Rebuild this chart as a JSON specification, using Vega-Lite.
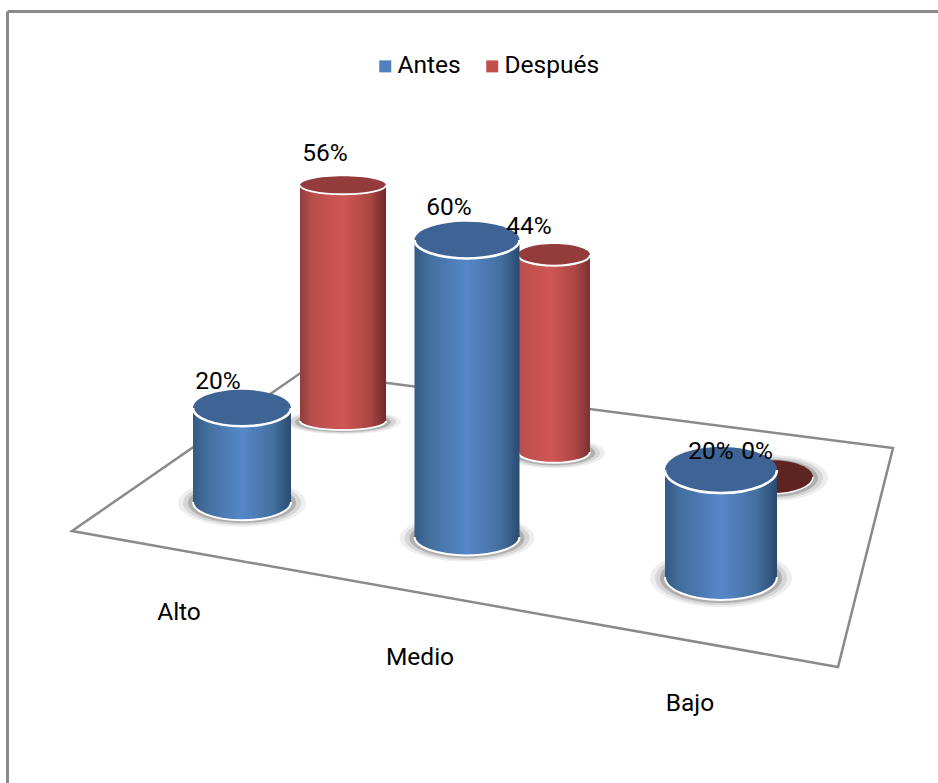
{"$schema":"https://vega.github.io/schema/vega-lite/v6.json","width":931,"height":772,"autosize":{"type":"none"},"padding":{"left":7,"top":11,"right":0,"bottom":0},"background":"white","config":{"view":{"stroke":null},"text":{"font":"Roboto","fontSize":24.5,"color":"black"}},"data":{"values":[{"category":"Alto","series":"Antes","value":0.2},{"category":"Alto","series":"Después","value":0.56},{"category":"Medio","series":"Antes","value":0.6},{"category":"Medio","series":"Después","value":0.44},{"category":"Bajo","series":"Antes","value":0.2},{"category":"Bajo","series":"Después","value":0}]},"resolve":{"scale":{"x":"independent","y":"independent"},"axis":{"x":"independent","y":"independent"}},"layer":[
{"mark":{"type":"point","opacity":0},"encoding":{"x":{"field":"value","type":"quantitative","scale":{"domain":[0,1],"range":[0,931]},"axis":{"orient":"top","title":null,"labels":false,"ticks":false,"grid":false,"domainColor":"#8a8a8a","domainWidth":3}},"y":{"field":"value","type":"quantitative","scale":{"domain":[0,1],"range":[772,0]},"axis":{"orient":"left","title":null,"labels":false,"ticks":false,"grid":false,"domainColor":"#8a8a8a","domainWidth":3}}}},
{"transform":[{"filter":"datum.category=='Medio'&&datum.series=='Antes'"}],"mark":{"type":"point","filled":true,"fill":"white","stroke":"#8a8a8a","strokeWidth":2.5,"opacity":1,"size":40000,"shape":"M-3.95,-0.06L-1.65,-1.65L4.26,-0.89L3.71,1.3Z"},"encoding":{"x":{"field":"category","type":"nominal","axis":null,"scale":{"type":"point","domain":["Medio"],"range":[460,460]}},"y":{"datum":0,"type":"quantitative","axis":null,"scale":{"domain":[0,1],"range":[526,31]}}}},
{"transform":[{"filter":"datum.category=='Alto'&&datum.series=='Después'"}],"encoding":{"x":{"field":"category","type":"nominal","axis":null,"scale":{"type":"point","domain":["Alto"],"range":[336,336]}},"y":{"field":"value","type":"quantitative","axis":null,"scale":{"domain":[0,1],"range":[410,-11]}}},"layer":[
{"mark":{"type":"point","filled":true,"fill":"#777777","opacity":0.12,"size":13456,"yOffset":1,"shape":"M-1,0A1,0.21 0 1 1 1,0A1,0.21 0 1 1 -1,0Z"},"encoding":{"y":{"datum":0}}},
{"mark":{"type":"point","filled":true,"fill":"#777777","opacity":0.2,"size":11236,"yOffset":1,"shape":"M-1,0A1,0.21 0 1 1 1,0A1,0.21 0 1 1 -1,0Z"},"encoding":{"y":{"datum":0}}},
{"mark":{"type":"point","filled":true,"fill":"#666666","opacity":0.35,"size":9216,"yOffset":1,"shape":"M-1,0A1,0.21 0 1 1 1,0A1,0.21 0 1 1 -1,0Z"},"encoding":{"y":{"datum":0}}},
{"mark":{"type":"point","filled":true,"opacity":1,"size":7396,"shape":"M-1,0A1,0.21 0 1 1 1,0A1,0.21 0 1 1 -1,0Z","fill":{"gradient":"linear","x1":0,"y1":0,"x2":1,"y2":0,"stops":[{"offset":0,"color":"#8f3d3b"},{"offset":0.15,"color":"#b94f4c"},{"offset":0.5,"color":"#cf5654"},{"offset":0.82,"color":"#ab4643"},{"offset":1,"color":"#6d2a29"}]}},"encoding":{"y":{"datum":0}}},
{"mark":{"type":"point","filled":false,"stroke":"white","strokeWidth":2,"opacity":1,"size":7396,"shape":"M-1,0A1,0.21 0 0 0 1,0"},"encoding":{"y":{"datum":0}}},
{"mark":{"type":"bar","width":86,"fill":{"gradient":"linear","x1":0,"y1":0,"x2":1,"y2":0,"stops":[{"offset":0,"color":"#8f3d3b"},{"offset":0.15,"color":"#b94f4c"},{"offset":0.5,"color":"#cf5654"},{"offset":0.82,"color":"#ab4643"},{"offset":1,"color":"#6d2a29"}]}},"encoding":{"y2":{"datum":0}}},
{"mark":{"type":"point","filled":true,"fill":"#943c3b","opacity":1,"size":7396,"shape":"M-1,0A1,0.21 0 1 1 1,0A1,0.21 0 1 1 -1,0Z"}},
{"mark":{"type":"point","filled":false,"stroke":"white","strokeWidth":2,"opacity":1,"size":7396,"shape":"M-1,0A1,0.21 0 0 0 1,0"}}
]},
{"transform":[{"filter":"datum.category=='Medio'&&datum.series=='Después'"}],"encoding":{"x":{"field":"category","type":"nominal","axis":null,"scale":{"type":"point","domain":["Medio"],"range":[547,547]}},"y":{"field":"value","type":"quantitative","axis":null,"scale":{"domain":[0,1],"range":[441,-7]}}},"layer":[
{"mark":{"type":"point","filled":true,"fill":"#777777","opacity":0.12,"size":10404,"yOffset":1,"shape":"M-1,0A1,0.3 0 1 1 1,0A1,0.3 0 1 1 -1,0Z"},"encoding":{"y":{"datum":0}}},
{"mark":{"type":"point","filled":true,"fill":"#777777","opacity":0.2,"size":8464,"yOffset":1,"shape":"M-1,0A1,0.3 0 1 1 1,0A1,0.3 0 1 1 -1,0Z"},"encoding":{"y":{"datum":0}}},
{"mark":{"type":"point","filled":true,"fill":"#666666","opacity":0.35,"size":6724,"yOffset":1,"shape":"M-1,0A1,0.3 0 1 1 1,0A1,0.3 0 1 1 -1,0Z"},"encoding":{"y":{"datum":0}}},
{"mark":{"type":"point","filled":true,"opacity":1,"size":5184,"shape":"M-1,0A1,0.3 0 1 1 1,0A1,0.3 0 1 1 -1,0Z","fill":{"gradient":"linear","x1":0,"y1":0,"x2":1,"y2":0,"stops":[{"offset":0,"color":"#b94f4c"},{"offset":0.45,"color":"#cf5654"},{"offset":0.8,"color":"#ab4643"},{"offset":1,"color":"#7a3230"}]}},"encoding":{"y":{"datum":0}}},
{"mark":{"type":"point","filled":false,"stroke":"white","strokeWidth":2,"opacity":1,"size":5184,"shape":"M-1,0A1,0.3 0 0 0 1,0"},"encoding":{"y":{"datum":0}}},
{"mark":{"type":"bar","width":72,"fill":{"gradient":"linear","x1":0,"y1":0,"x2":1,"y2":0,"stops":[{"offset":0,"color":"#b94f4c"},{"offset":0.45,"color":"#cf5654"},{"offset":0.8,"color":"#ab4643"},{"offset":1,"color":"#7a3230"}]}},"encoding":{"y2":{"datum":0}}},
{"mark":{"type":"point","filled":true,"fill":"#943c3b","opacity":1,"size":5184,"shape":"M-1,0A1,0.3 0 1 1 1,0A1,0.3 0 1 1 -1,0Z"}},
{"mark":{"type":"point","filled":false,"stroke":"white","strokeWidth":2,"opacity":1,"size":5184,"shape":"M-1,0A1,0.3 0 0 0 1,0"}}
]},
{"transform":[{"filter":"datum.category=='Bajo'&&datum.series=='Después'"}],"encoding":{"x":{"field":"category","type":"nominal","axis":null,"scale":{"type":"point","domain":["Bajo"],"range":[765,765]}},"y":{"field":"value","type":"quantitative","axis":null,"scale":{"domain":[0,1],"range":[466,16]}}},"layer":[
{"mark":{"type":"point","filled":true,"fill":"#777777","opacity":0.12,"size":12544,"yOffset":1,"shape":"M-1,0A1,0.41 0 1 1 1,0A1,0.41 0 1 1 -1,0Z"}},
{"mark":{"type":"point","filled":true,"fill":"#777777","opacity":0.2,"size":10404,"yOffset":1,"shape":"M-1,0A1,0.41 0 1 1 1,0A1,0.41 0 1 1 -1,0Z"}},
{"mark":{"type":"point","filled":true,"fill":"#666666","opacity":0.35,"size":8464,"yOffset":1,"shape":"M-1,0A1,0.41 0 1 1 1,0A1,0.41 0 1 1 -1,0Z"}},
{"mark":{"type":"point","filled":true,"fill":"#5e2421","opacity":1,"size":6724,"shape":"M-1,0A1,0.41 0 1 1 1,0A1,0.41 0 1 1 -1,0Z"}},
{"mark":{"type":"point","filled":false,"stroke":"white","strokeWidth":1.5,"opacity":1,"size":6724,"shape":"M-1,0A1,0.41 0 0 0 1,0"}}
]},
{"transform":[{"filter":"datum.category=='Alto'&&datum.series=='Antes'"}],"encoding":{"x":{"field":"category","type":"nominal","axis":null,"scale":{"type":"point","domain":["Alto"],"range":[235,235]}},"y":{"field":"value","type":"quantitative","axis":null,"scale":{"domain":[0,1],"range":[491,21]}}},"layer":[
{"mark":{"type":"point","filled":true,"fill":"#777777","opacity":0.12,"size":16384,"yOffset":1,"shape":"M-1,0A1,0.37 0 1 1 1,0A1,0.37 0 1 1 -1,0Z"},"encoding":{"y":{"datum":0}}},
{"mark":{"type":"point","filled":true,"fill":"#777777","opacity":0.2,"size":13924,"yOffset":1,"shape":"M-1,0A1,0.37 0 1 1 1,0A1,0.37 0 1 1 -1,0Z"},"encoding":{"y":{"datum":0}}},
{"mark":{"type":"point","filled":true,"fill":"#666666","opacity":0.35,"size":11664,"yOffset":1,"shape":"M-1,0A1,0.37 0 1 1 1,0A1,0.37 0 1 1 -1,0Z"},"encoding":{"y":{"datum":0}}},
{"mark":{"type":"point","filled":true,"opacity":1,"size":9604,"shape":"M-1,0A1,0.37 0 1 1 1,0A1,0.37 0 1 1 -1,0Z","fill":{"gradient":"linear","x1":0,"y1":0,"x2":1,"y2":0,"stops":[{"offset":0,"color":"#345a85"},{"offset":0.15,"color":"#44709f"},{"offset":0.5,"color":"#5587c9"},{"offset":0.82,"color":"#44709f"},{"offset":1,"color":"#2a4a70"}]}},"encoding":{"y":{"datum":0}}},
{"mark":{"type":"point","filled":false,"stroke":"white","strokeWidth":2,"opacity":1,"size":9604,"shape":"M-1,0A1,0.37 0 0 0 1,0"},"encoding":{"y":{"datum":0}}},
{"mark":{"type":"bar","width":98,"fill":{"gradient":"linear","x1":0,"y1":0,"x2":1,"y2":0,"stops":[{"offset":0,"color":"#345a85"},{"offset":0.15,"color":"#44709f"},{"offset":0.5,"color":"#5587c9"},{"offset":0.82,"color":"#44709f"},{"offset":1,"color":"#2a4a70"}]}},"encoding":{"y2":{"datum":0}}},
{"mark":{"type":"point","filled":true,"fill":"#3d6494","opacity":1,"size":9604,"shape":"M-1,0A1,0.37 0 1 1 1,0A1,0.37 0 1 1 -1,0Z"}},
{"mark":{"type":"point","filled":false,"stroke":"white","strokeWidth":2.5,"opacity":1,"size":9604,"shape":"M-1,0A1,0.37 0 0 0 1,0"}},
{"mark":{"type":"text","dx":-63,"dy":111},"encoding":{"y":{"datum":0},"text":{"field":"category"}}}
]},
{"transform":[{"filter":"datum.category=='Medio'&&datum.series=='Antes'"}],"encoding":{"x":{"field":"category","type":"nominal","axis":null,"scale":{"type":"point","domain":["Medio"],"range":[460,460]}},"y":{"field":"value","type":"quantitative","axis":null,"scale":{"domain":[0,1],"range":[526,31]}}},"layer":[
{"mark":{"type":"point","filled":true,"fill":"#777777","opacity":0.12,"size":18225,"yOffset":1,"shape":"M-1,0A1,0.35 0 1 1 1,0A1,0.35 0 1 1 -1,0Z"},"encoding":{"y":{"datum":0}}},
{"mark":{"type":"point","filled":true,"fill":"#777777","opacity":0.2,"size":15625,"yOffset":1,"shape":"M-1,0A1,0.35 0 1 1 1,0A1,0.35 0 1 1 -1,0Z"},"encoding":{"y":{"datum":0}}},
{"mark":{"type":"point","filled":true,"fill":"#666666","opacity":0.35,"size":13225,"yOffset":1,"shape":"M-1,0A1,0.35 0 1 1 1,0A1,0.35 0 1 1 -1,0Z"},"encoding":{"y":{"datum":0}}},
{"mark":{"type":"point","filled":true,"opacity":1,"size":11025,"shape":"M-1,0A1,0.35 0 1 1 1,0A1,0.35 0 1 1 -1,0Z","fill":{"gradient":"linear","x1":0,"y1":0,"x2":1,"y2":0,"stops":[{"offset":0,"color":"#345a85"},{"offset":0.15,"color":"#44709f"},{"offset":0.5,"color":"#5587c9"},{"offset":0.82,"color":"#44709f"},{"offset":1,"color":"#2a4a70"}]}},"encoding":{"y":{"datum":0}}},
{"mark":{"type":"point","filled":false,"stroke":"white","strokeWidth":2,"opacity":1,"size":11025,"shape":"M-1,0A1,0.35 0 0 0 1,0"},"encoding":{"y":{"datum":0}}},
{"mark":{"type":"bar","width":105,"fill":{"gradient":"linear","x1":0,"y1":0,"x2":1,"y2":0,"stops":[{"offset":0,"color":"#345a85"},{"offset":0.15,"color":"#44709f"},{"offset":0.5,"color":"#5587c9"},{"offset":0.82,"color":"#44709f"},{"offset":1,"color":"#2a4a70"}]}},"encoding":{"y2":{"datum":0}}},
{"mark":{"type":"point","filled":true,"fill":"#3d6494","opacity":1,"size":11025,"shape":"M-1,0A1,0.35 0 1 1 1,0A1,0.35 0 1 1 -1,0Z"}},
{"mark":{"type":"point","filled":false,"stroke":"white","strokeWidth":2.5,"opacity":1,"size":11025,"shape":"M-1,0A1,0.35 0 0 0 1,0"}},
{"mark":{"type":"text","dx":-47,"dy":121},"encoding":{"y":{"datum":0},"text":{"field":"category"}}}
]},
{"transform":[{"filter":"datum.category=='Bajo'&&datum.series=='Antes'"}],"encoding":{"x":{"field":"category","type":"nominal","axis":null,"scale":{"type":"point","domain":["Bajo"],"range":[714,714]}},"y":{"field":"value","type":"quantitative","axis":null,"scale":{"domain":[0,1],"range":[566,31]}}},"layer":[
{"mark":{"type":"point","filled":true,"fill":"#777777","opacity":0.12,"size":20164,"yOffset":1,"shape":"M-1,0A1,0.41 0 1 1 1,0A1,0.41 0 1 1 -1,0Z"},"encoding":{"y":{"datum":0}}},
{"mark":{"type":"point","filled":true,"fill":"#777777","opacity":0.2,"size":17424,"yOffset":1,"shape":"M-1,0A1,0.41 0 1 1 1,0A1,0.41 0 1 1 -1,0Z"},"encoding":{"y":{"datum":0}}},
{"mark":{"type":"point","filled":true,"fill":"#666666","opacity":0.35,"size":14884,"yOffset":1,"shape":"M-1,0A1,0.41 0 1 1 1,0A1,0.41 0 1 1 -1,0Z"},"encoding":{"y":{"datum":0}}},
{"mark":{"type":"point","filled":true,"opacity":1,"size":12544,"shape":"M-1,0A1,0.41 0 1 1 1,0A1,0.41 0 1 1 -1,0Z","fill":{"gradient":"linear","x1":0,"y1":0,"x2":1,"y2":0,"stops":[{"offset":0,"color":"#345a85"},{"offset":0.15,"color":"#44709f"},{"offset":0.5,"color":"#5587c9"},{"offset":0.82,"color":"#44709f"},{"offset":1,"color":"#2a4a70"}]}},"encoding":{"y":{"datum":0}}},
{"mark":{"type":"point","filled":false,"stroke":"white","strokeWidth":2,"opacity":1,"size":12544,"shape":"M-1,0A1,0.41 0 0 0 1,0"},"encoding":{"y":{"datum":0}}},
{"mark":{"type":"bar","width":112,"fill":{"gradient":"linear","x1":0,"y1":0,"x2":1,"y2":0,"stops":[{"offset":0,"color":"#345a85"},{"offset":0.15,"color":"#44709f"},{"offset":0.5,"color":"#5587c9"},{"offset":0.82,"color":"#44709f"},{"offset":1,"color":"#2a4a70"}]}},"encoding":{"y2":{"datum":0}}},
{"mark":{"type":"point","filled":true,"fill":"#3d6494","opacity":1,"size":12544,"shape":"M-1,0A1,0.41 0 1 1 1,0A1,0.41 0 1 1 -1,0Z"}},
{"mark":{"type":"point","filled":false,"stroke":"white","strokeWidth":2.5,"opacity":1,"size":12544,"shape":"M-1,0A1,0.41 0 0 0 1,0"}},
{"mark":{"type":"text","dx":-31,"dy":127},"encoding":{"y":{"datum":0},"text":{"field":"category"}}}
]},
{"transform":[{"filter":"datum.category=='Alto'&&datum.series=='Antes'"}],"mark":{"type":"text","dx":-24,"dy":-26},"encoding":{"x":{"field":"category","type":"nominal","axis":null,"scale":{"type":"point","domain":["Alto"],"range":[235,235]}},"y":{"field":"value","type":"quantitative","axis":null,"scale":{"domain":[0,1],"range":[491,21]}},"text":{"field":"value","format":".0%"}}},
{"transform":[{"filter":"datum.category=='Alto'&&datum.series=='Después'"}],"mark":{"type":"text","dx":-18,"dy":-31},"encoding":{"x":{"field":"category","type":"nominal","axis":null,"scale":{"type":"point","domain":["Alto"],"range":[336,336]}},"y":{"field":"value","type":"quantitative","axis":null,"scale":{"domain":[0,1],"range":[410,-11]}},"text":{"field":"value","format":".0%"}}},
{"transform":[{"filter":"datum.category=='Medio'&&datum.series=='Antes'"}],"mark":{"type":"text","dx":-18,"dy":-32},"encoding":{"x":{"field":"category","type":"nominal","axis":null,"scale":{"type":"point","domain":["Medio"],"range":[460,460]}},"y":{"field":"value","type":"quantitative","axis":null,"scale":{"domain":[0,1],"range":[526,31]}},"text":{"field":"value","format":".0%"}}},
{"transform":[{"filter":"datum.category=='Medio'&&datum.series=='Después'"}],"mark":{"type":"text","dx":-25,"dy":-28},"encoding":{"x":{"field":"category","type":"nominal","axis":null,"scale":{"type":"point","domain":["Medio"],"range":[547,547]}},"y":{"field":"value","type":"quantitative","axis":null,"scale":{"domain":[0,1],"range":[441,-7]}},"text":{"field":"value","format":".0%"}}},
{"transform":[{"filter":"datum.category=='Bajo'&&datum.series=='Antes'"}],"mark":{"type":"text","dx":-10,"dy":-18},"encoding":{"x":{"field":"category","type":"nominal","axis":null,"scale":{"type":"point","domain":["Bajo"],"range":[714,714]}},"y":{"field":"value","type":"quantitative","axis":null,"scale":{"domain":[0,1],"range":[566,31]}},"text":{"field":"value","format":".0%"}}},
{"transform":[{"filter":"datum.category=='Bajo'&&datum.series=='Después'"}],"mark":{"type":"text","dx":-15,"dy":-25},"encoding":{"x":{"field":"category","type":"nominal","axis":null,"scale":{"type":"point","domain":["Bajo"],"range":[765,765]}},"y":{"field":"value","type":"quantitative","axis":null,"scale":{"domain":[0,1],"range":[466,16]}},"text":{"field":"value","format":".0%"}}},
{"mark":{"type":"square","size":0,"opacity":0},"encoding":{"color":{"field":"series","type":"nominal","sort":["Antes","Después"],"scale":{"domain":["Antes","Después"],"range":["#4f81bd","#c0504d"]},"legend":{"title":null,"orient":"none","legendX":366,"legendY":43,"direction":"horizontal","columns":2,"symbolType":"square","symbolSize":144,"symbolOpacity":1,"labelFont":"Roboto","labelFontSize":24.5,"labelColor":"black","columnPadding":19,"labelOffset":0}}}}
]}
